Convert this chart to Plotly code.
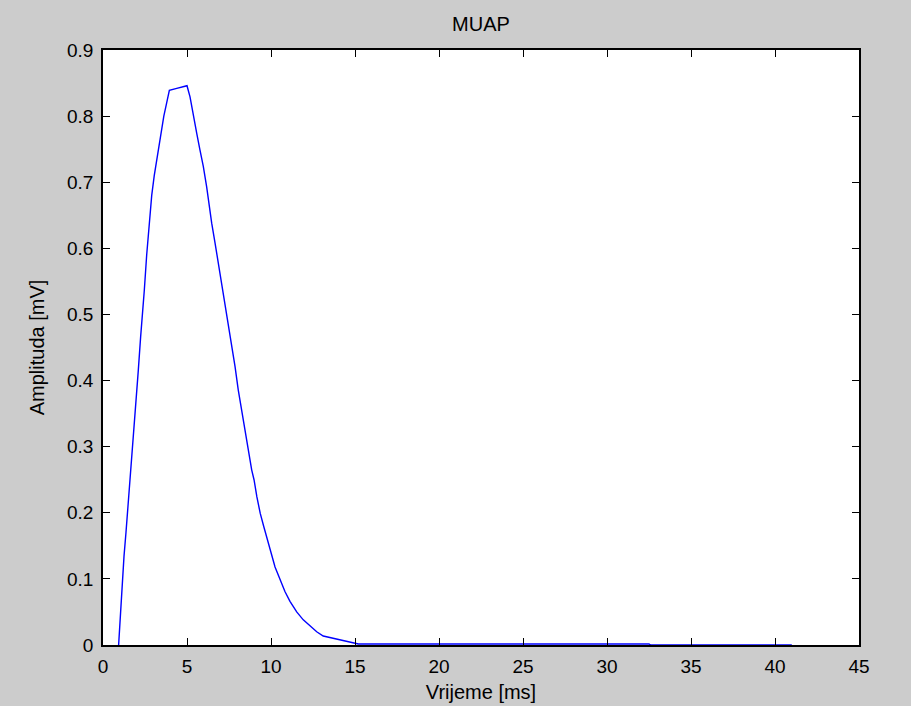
import plotly.graph_objects as go

# MUAP curve
time_ms = [0.93, 0.97, 1.07, 1.15, 1.25, 1.37, 1.49, 1.61, 1.73, 1.85, 1.96, 2.10,
           2.24, 2.36, 2.46, 2.60, 2.76, 2.90, 3.05, 3.20, 3.35, 3.49, 3.62, 3.79,
           3.95, 4.39, 5.00, 5.18, 5.38, 5.58, 5.77, 5.97, 6.17, 6.31, 6.47, 6.67,
           6.87, 7.07, 7.26, 7.46, 7.66, 7.86, 8.05, 8.26, 8.45, 8.65, 8.85, 8.99,
           9.16, 9.36, 9.56, 9.76, 10.00, 10.24, 10.54, 10.83, 11.13, 11.53, 11.92,
           12.32, 12.72, 13.11, 13.90, 14.90, 15.20, 20.0, 25.0, 30.0, 32.5, 32.6,
           41.0]
amplitude_mv = [0.0, 0.018, 0.058, 0.093, 0.134, 0.171, 0.209, 0.250, 0.287, 0.325,
                0.366, 0.415, 0.466, 0.502, 0.537, 0.590, 0.640, 0.680, 0.710, 0.735,
                0.757, 0.778, 0.800, 0.820, 0.839, 0.842, 0.846, 0.829, 0.799, 0.774,
                0.749, 0.724, 0.693, 0.663, 0.638, 0.608, 0.577, 0.547, 0.517, 0.482,
                0.451, 0.421, 0.386, 0.356, 0.325, 0.295, 0.265, 0.250, 0.224, 0.199,
                0.180, 0.160, 0.140, 0.118, 0.098, 0.081, 0.066, 0.050, 0.038, 0.029,
                0.020, 0.0136, 0.0086, 0.0025, 0.0015, 0.0015, 0.0015, 0.0015, 0.0015,
                0.0, 0.0]

x_ticks = [0, 5, 10, 15, 20, 25, 30, 35, 40, 45]
y_ticks = [0, 0.1, 0.2, 0.3, 0.4, 0.5, 0.6, 0.7, 0.8, 0.9]
y_tick_text = ["0", "0.1", "0.2", "0.3", "0.4", "0.5", "0.6", "0.7", "0.8", "0.9"]

FONT = "Liberation Sans, Arial, sans-serif"

fig = go.Figure()
fig.add_trace(go.Scatter(x=time_ms, y=amplitude_mv, mode="lines",
                         line=dict(color="#0000ff", width=1.4),
                         showlegend=False, hoverinfo="x+y"))

axis_common = dict(showline=True, linecolor="#000000", linewidth=1.5,
                   mirror="ticks", ticks="inside", ticklen=7, tickwidth=1,
                   tickcolor="#000000", showgrid=False, zeroline=False,
                   tickfont=dict(family=FONT, size=19, color="#000000"))

fig.update_layout(
    width=911, height=706,
    margin=dict(l=103, r=52, t=50, b=61, autoexpand=False),
    paper_bgcolor="#cccccc", plot_bgcolor="#ffffff",
    font=dict(family=FONT, size=19, color="#000000"),
    title=dict(text="MUAP", x=0.5, xref="paper", xanchor="center",
               y=1 - 24 / 706, yref="container", yanchor="middle",
               font=dict(family=FONT, size=20, color="#000000")),
    xaxis=dict(range=[0, 45], tickvals=x_ticks, ticklabelstandoff=3,
               title=dict(text="Vrijeme [ms]", standoff=9,
                          font=dict(family=FONT, size=20)),
               **axis_common),
    yaxis=dict(range=[0, 0.9], tickvals=y_ticks, ticktext=y_tick_text,
               ticklabelstandoff=4,
               title=dict(text="Amplituda [mV]", standoff=17,
                          font=dict(family=FONT, size=20)),
               **axis_common),
)

fig.write_html("out.html")
